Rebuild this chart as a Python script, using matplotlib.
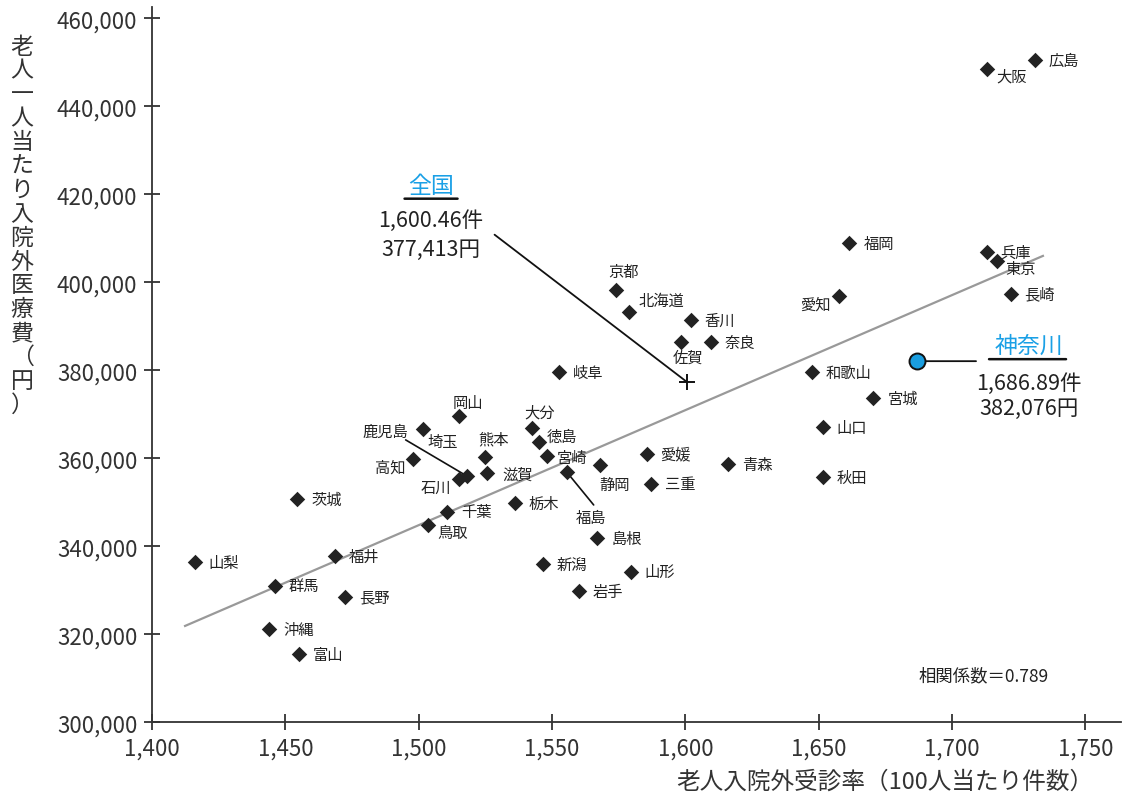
import numpy as np
import matplotlib
matplotlib.use("Agg")
import matplotlib.pyplot as plt
from matplotlib.transforms import offset_copy
from matplotlib.ticker import FuncFormatter

plt.rcParams['font.family'] = ['Noto Sans CJK JP', 'DejaVu Sans']

# ---------------- data ----------------
prefs = ['広島', '大阪', '福岡', '兵庫', '東京', '長崎', '愛知', '京都', '北海道', '香川',
         '佐賀', '奈良', '岐阜', '和歌山', '宮城', '山口', '秋田', '青森', '愛媛', '三重',
         '静岡', '福島', '宮崎', '徳島', '大分', '岡山', '埼玉', '鹿児島', '石川', '熊本',
         '滋賀', '高知', '千葉', '鳥取', '栃木', '島根', '新潟', '山形', '岩手', '茨城',
         '福井', '山梨', '群馬', '長野', '沖縄', '富山']
visit_rate = [1731, 1713, 1661.5, 1713, 1717, 1722, 1657.5, 1574, 1579, 1602,
              1598.5, 1609.5, 1552.5, 1647.5, 1670.5, 1651.5, 1651.5, 1616, 1585.5, 1587,
              1568, 1555.5, 1548, 1545, 1542.5, 1515, 1501.5, 1518, 1515, 1525,
              1525.5, 1498, 1510.5, 1503.5, 1536, 1567, 1546.5, 1579.5, 1560, 1454.5,
              1468.5, 1416, 1446, 1472.5, 1444, 1455]
cost = [450500, 448500, 408900, 406900, 404900, 397400, 396900, 398200, 393200, 391400,
        386400, 386400, 379600, 379600, 373700, 367100, 355700, 358700, 361000, 354200,
        358500, 356900, 360500, 363700, 366900, 369600, 366700, 356000, 355300, 360300,
        356700, 359800, 347800, 344900, 349800, 341900, 336000, 334200, 329800, 350700,
        337800, 336400, 331000, 328500, 321200, 315500]

kanagawa_x, kanagawa_y = 1686.89, 382076
national_x, national_y = 1600.46, 377413
corr_text = '相関係数＝0.789'

x_ticks = [1400, 1450, 1500, 1550, 1600, 1650, 1700, 1750]
y_ticks = [300000, 320000, 340000, 360000, 380000, 400000, 420000, 440000, 460000]
# regression line as drawn in the source chart
fit_x = [1412.4, 1734.1]
fit_y = [321900, 406000]

# ---------------- label layout (pixel offsets: dx right, dy down) ----------------
default_off = (14, 0, 'left')
label_off = {
    '大阪': (10, 7, 'left'), '東京': (8, 8, 'left'), '愛知': (-8, 8, 'right'),
    '京都': (8, -19, 'center'), '北海道': (9, -12, 'left'), '佐賀': (7, 15, 'center'),
    '静岡': (15, 20, 'center'), '福島': (24, 46, 'center'), '宮崎': (10, 1, 'left'),
    '徳島': (8, -6, 'left'), '大分': (8, -16, 'center'), '岡山': (9, -14, 'center'),
    '鹿児島': (-81, -45, 'center'), '埼玉': (20, 13, 'center'), '熊本': (8, -18, 'center'),
    '滋賀': (16, 1, 'left'), '高知': (-8, 8, 'right'), '石川': (-8, 8, 'right'),
    '千葉': (15, 0, 'left'), '鳥取': (9, 8, 'left'),
}
leaders = {'鹿児島': (-61, -36), '福島': (27, 33)}

W, H = 1125, 804
fig = plt.figure(figsize=(W / 100, H / 100), dpi=100)
ax = fig.add_axes([152 / W, 1 - 723.3 / H, (1121 - 152) / W, (723.3 - 8) / H])
ax.set_xlim(1400, 1400 + (1121 - 152) / (400 / 150))
ax.set_ylim(300000, 300000 + (723.3 - 8) / 0.0044)

axis_col = '#333333'
for s in ['top', 'right']:
    ax.spines[s].set_visible(False)
for s in ['left', 'bottom']:
    ax.spines[s].set_color(axis_col)
    ax.spines[s].set_linewidth(1.3)
ax.set_xticks(x_ticks)
ax.set_yticks(y_ticks)
ax.xaxis.set_major_formatter(FuncFormatter(lambda v, p: f'{int(v):,}'))
ax.yaxis.set_major_formatter(FuncFormatter(lambda v, p: f'{int(v):,}'))
ax.tick_params(direction='inout', length=11, width=1.3, color=axis_col,
               labelsize=16, labelcolor='#333333')
ax.tick_params(axis='x', pad=5)
ax.tick_params(axis='y', pad=5)

# regression line
ax.plot(fit_x, fit_y, color='#999999', lw=1.6, zorder=1)

# markers
ax.scatter(visit_rate, cost, marker='D', s=62, color='#222222', zorder=3, linewidths=0)

def px(dx, dy):
    return (dx, -dy)

for name, xv, yv in zip(prefs, visit_rate, cost):
    dx, dy, ha = label_off.get(name, default_off)
    ax.annotate(name, (xv, yv), xytext=px(dx, dy), textcoords='offset pixels',
                ha=ha, va='center', fontsize=11, color='#222222', zorder=4)
    if name in leaders:
        ldx, ldy = leaders[name]
        ax.annotate('', (xv, yv), xytext=px(ldx, ldy), textcoords='offset pixels',
                    arrowprops=dict(arrowstyle='-', color='#111111', lw=1.2,
                                    shrinkA=0, shrinkB=0), zorder=2)

blue = '#1aa0e6'

def seg(x0, y0, d1, d2, **kw):
    t1 = offset_copy(ax.transData, fig=fig, x=d1[0], y=-d1[1], units='dots')
    ax.annotate('', (x0, y0), xycoords=t1, xytext=px(d2[0] - d1[0], d2[1] - d1[1]),
                textcoords='offset pixels',
                arrowprops=dict(arrowstyle='-', shrinkA=0, shrinkB=0, **kw))

# national average
ax.plot([national_x], [national_y], marker='+', ms=12, mew=1.4, color='#111111', zorder=5)
ax.annotate('', (national_x, national_y), xytext=px(-192, -147), textcoords='offset pixels',
            arrowprops=dict(arrowstyle='-', color='#111111', lw=1.3, shrinkA=0, shrinkB=0))
ax.annotate('全国', (national_x, national_y), xytext=px(-256, -196), textcoords='offset pixels',
            ha='center', va='center', fontsize=16.5, color=blue)
seg(national_x, national_y, (-282, -183), (-229, -183), color='#111111', lw=1.8)
ax.annotate(f'{national_x:,.2f}件', (national_x, national_y), xytext=px(-256, -162),
            textcoords='offset pixels', ha='center', va='center', fontsize=15.5, color='#222222')
ax.annotate(f'{national_y:,}円', (national_x, national_y), xytext=px(-256, -133),
            textcoords='offset pixels', ha='center', va='center', fontsize=15.5, color='#222222')

# Kanagawa
ax.annotate('', (kanagawa_x, kanagawa_y), xytext=px(59, 0), textcoords='offset pixels',
            arrowprops=dict(arrowstyle='-', color='#111111', lw=1.3, shrinkA=0, shrinkB=0))
ax.plot([kanagawa_x], [kanagawa_y], marker='o', ms=11.5, mew=1.4, mfc='#1a9ee0',
        mec='#111111', zorder=6)
ax.annotate('神奈川', (kanagawa_x, kanagawa_y), xytext=px(112, -16), textcoords='offset pixels',
            ha='center', va='center', fontsize=16.5, color=blue)
seg(kanagawa_x, kanagawa_y, (72, -2), (149, -2), color='#111111', lw=1.8)
ax.annotate(f'{kanagawa_x:,.2f}件', (kanagawa_x, kanagawa_y), xytext=px(112, 22),
            textcoords='offset pixels', ha='center', va='center', fontsize=15.5, color='#222222')
ax.annotate(f'{kanagawa_y:,}円', (kanagawa_x, kanagawa_y), xytext=px(112, 47),
            textcoords='offset pixels', ha='center', va='center', fontsize=15.5, color='#222222')

# correlation text
fig.text(984 / W, 1 - 676 / H, corr_text, ha='center', va='center', fontsize=12.5, color='#222222')

# axis labels
fig.text(885 / W, 1 - 782 / H, '老人入院外受診率（100人当たり件数）', ha='center', va='center',
         fontsize=17, color='#333333')
ylab = '老人一人当たり入院外医療費（円）'
for i, ch in enumerate(ylab):
    fig.text(22 / W, 1 - (47 + i * 23.9) / H, ch, ha='center', va='center',
             fontsize=16.5, color='#333333')

fig.savefig('out.png', dpi=100)
